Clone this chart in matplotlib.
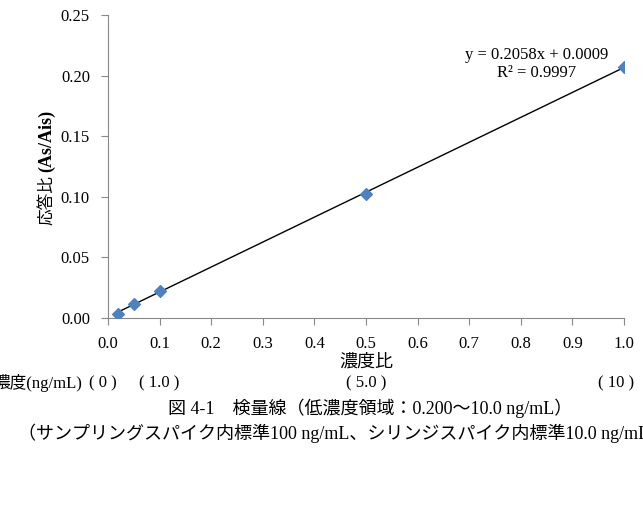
import numpy as np
import matplotlib.pyplot as plt

plt.rcParams['font.family'] = ['Liberation Serif', 'Noto Sans CJK JP']

# calibration points: concentration ratio vs response ratio
conc_ratio = [0.02, 0.05, 0.1, 0.5, 1.0]
resp_ratio = [0.0034, 0.0112, 0.0222, 0.102, 0.207]
slope = 0.2058
intercept = 0.0009
conc_labels = ['( 0 )', '( 1.0 )', '( 5.0 )', '( 10 )']
conc_label_x = [-0.01, 0.1, 0.5, 0.985]

fig = plt.figure(figsize=(6.43, 5.08), dpi=100)
ax = fig.add_axes([108 / 643, 1 - 318 / 508, 516 / 643, 303 / 508])

xs = np.array([min(conc_ratio), max(conc_ratio)])
ax.plot(xs, slope * xs + intercept, color='black', lw=1.0, zorder=2)
ax.scatter(conc_ratio, resp_ratio, marker='D', s=36, color='#4F81BD',
           edgecolors='#4F81BD', zorder=3)

ax.set_xlim(0, 1.0)
ax.set_ylim(0, 0.25)
ax.set_xticks(np.arange(0, 1.01, 0.1))
ax.set_yticks(np.arange(0, 0.251, 0.05))
ax.xaxis.set_major_formatter(plt.FuncFormatter(lambda v, p: f'{v:.1f}'))
ax.yaxis.set_major_formatter(plt.FuncFormatter(lambda v, p: f'{v:.2f}'))
for s in ['top', 'right']:
    ax.spines[s].set_visible(False)
for s in ['left', 'bottom']:
    ax.spines[s].set_color('#888888')
ax.tick_params(axis='both', colors='#888888', labelcolor='black',
               labelsize=12, length=5, direction='out')
ax.tick_params(axis='x', pad=8)
ax.tick_params(axis='y', pad=8)

ax.text(0.831, 0.217, f'y = {slope:.4f}x + {intercept:.4f}', fontsize=12,
        ha='center', va='center')
ax.text(0.831, 0.202, 'R² = 0.9997', fontsize=12, ha='center', va='center')

ax.set_xlabel('濃度比', fontsize=13, labelpad=1)
fig.text(47 / 643, 1 - 225 / 508, '応答比', rotation=90, fontsize=12,
         ha='center', va='bottom')
fig.text(47 / 643, 1 - 172 / 508, '(As/Ais)', rotation=90, fontsize=13,
         fontweight='bold', ha='center', va='bottom')

fig.text(-7 / 643, 1 - 383 / 508, '濃度(ng/mL)', fontsize=12, ha='left',
         va='center')
for xv, lab in zip(conc_label_x, conc_labels):
    ax.text(xv, -(383 - 318) / 303, lab, fontsize=12, ha='center',
            va='center', transform=ax.get_xaxis_transform(), clip_on=False)

fig.text(370 / 643, 1 - 408 / 508, '図 4-1　検量線（低濃度領域：0.200～10.0 ng/mL）',
         fontsize=13, ha='center', va='center')
fig.text(18 / 643, 1 - 433 / 508,
         '（サンプリングスパイク内標準100 ng/mL、シリンジスパイク内標準10.0 ng/mL）',
         fontsize=13, ha='left', va='center')

fig.savefig('out.png', dpi=100)
